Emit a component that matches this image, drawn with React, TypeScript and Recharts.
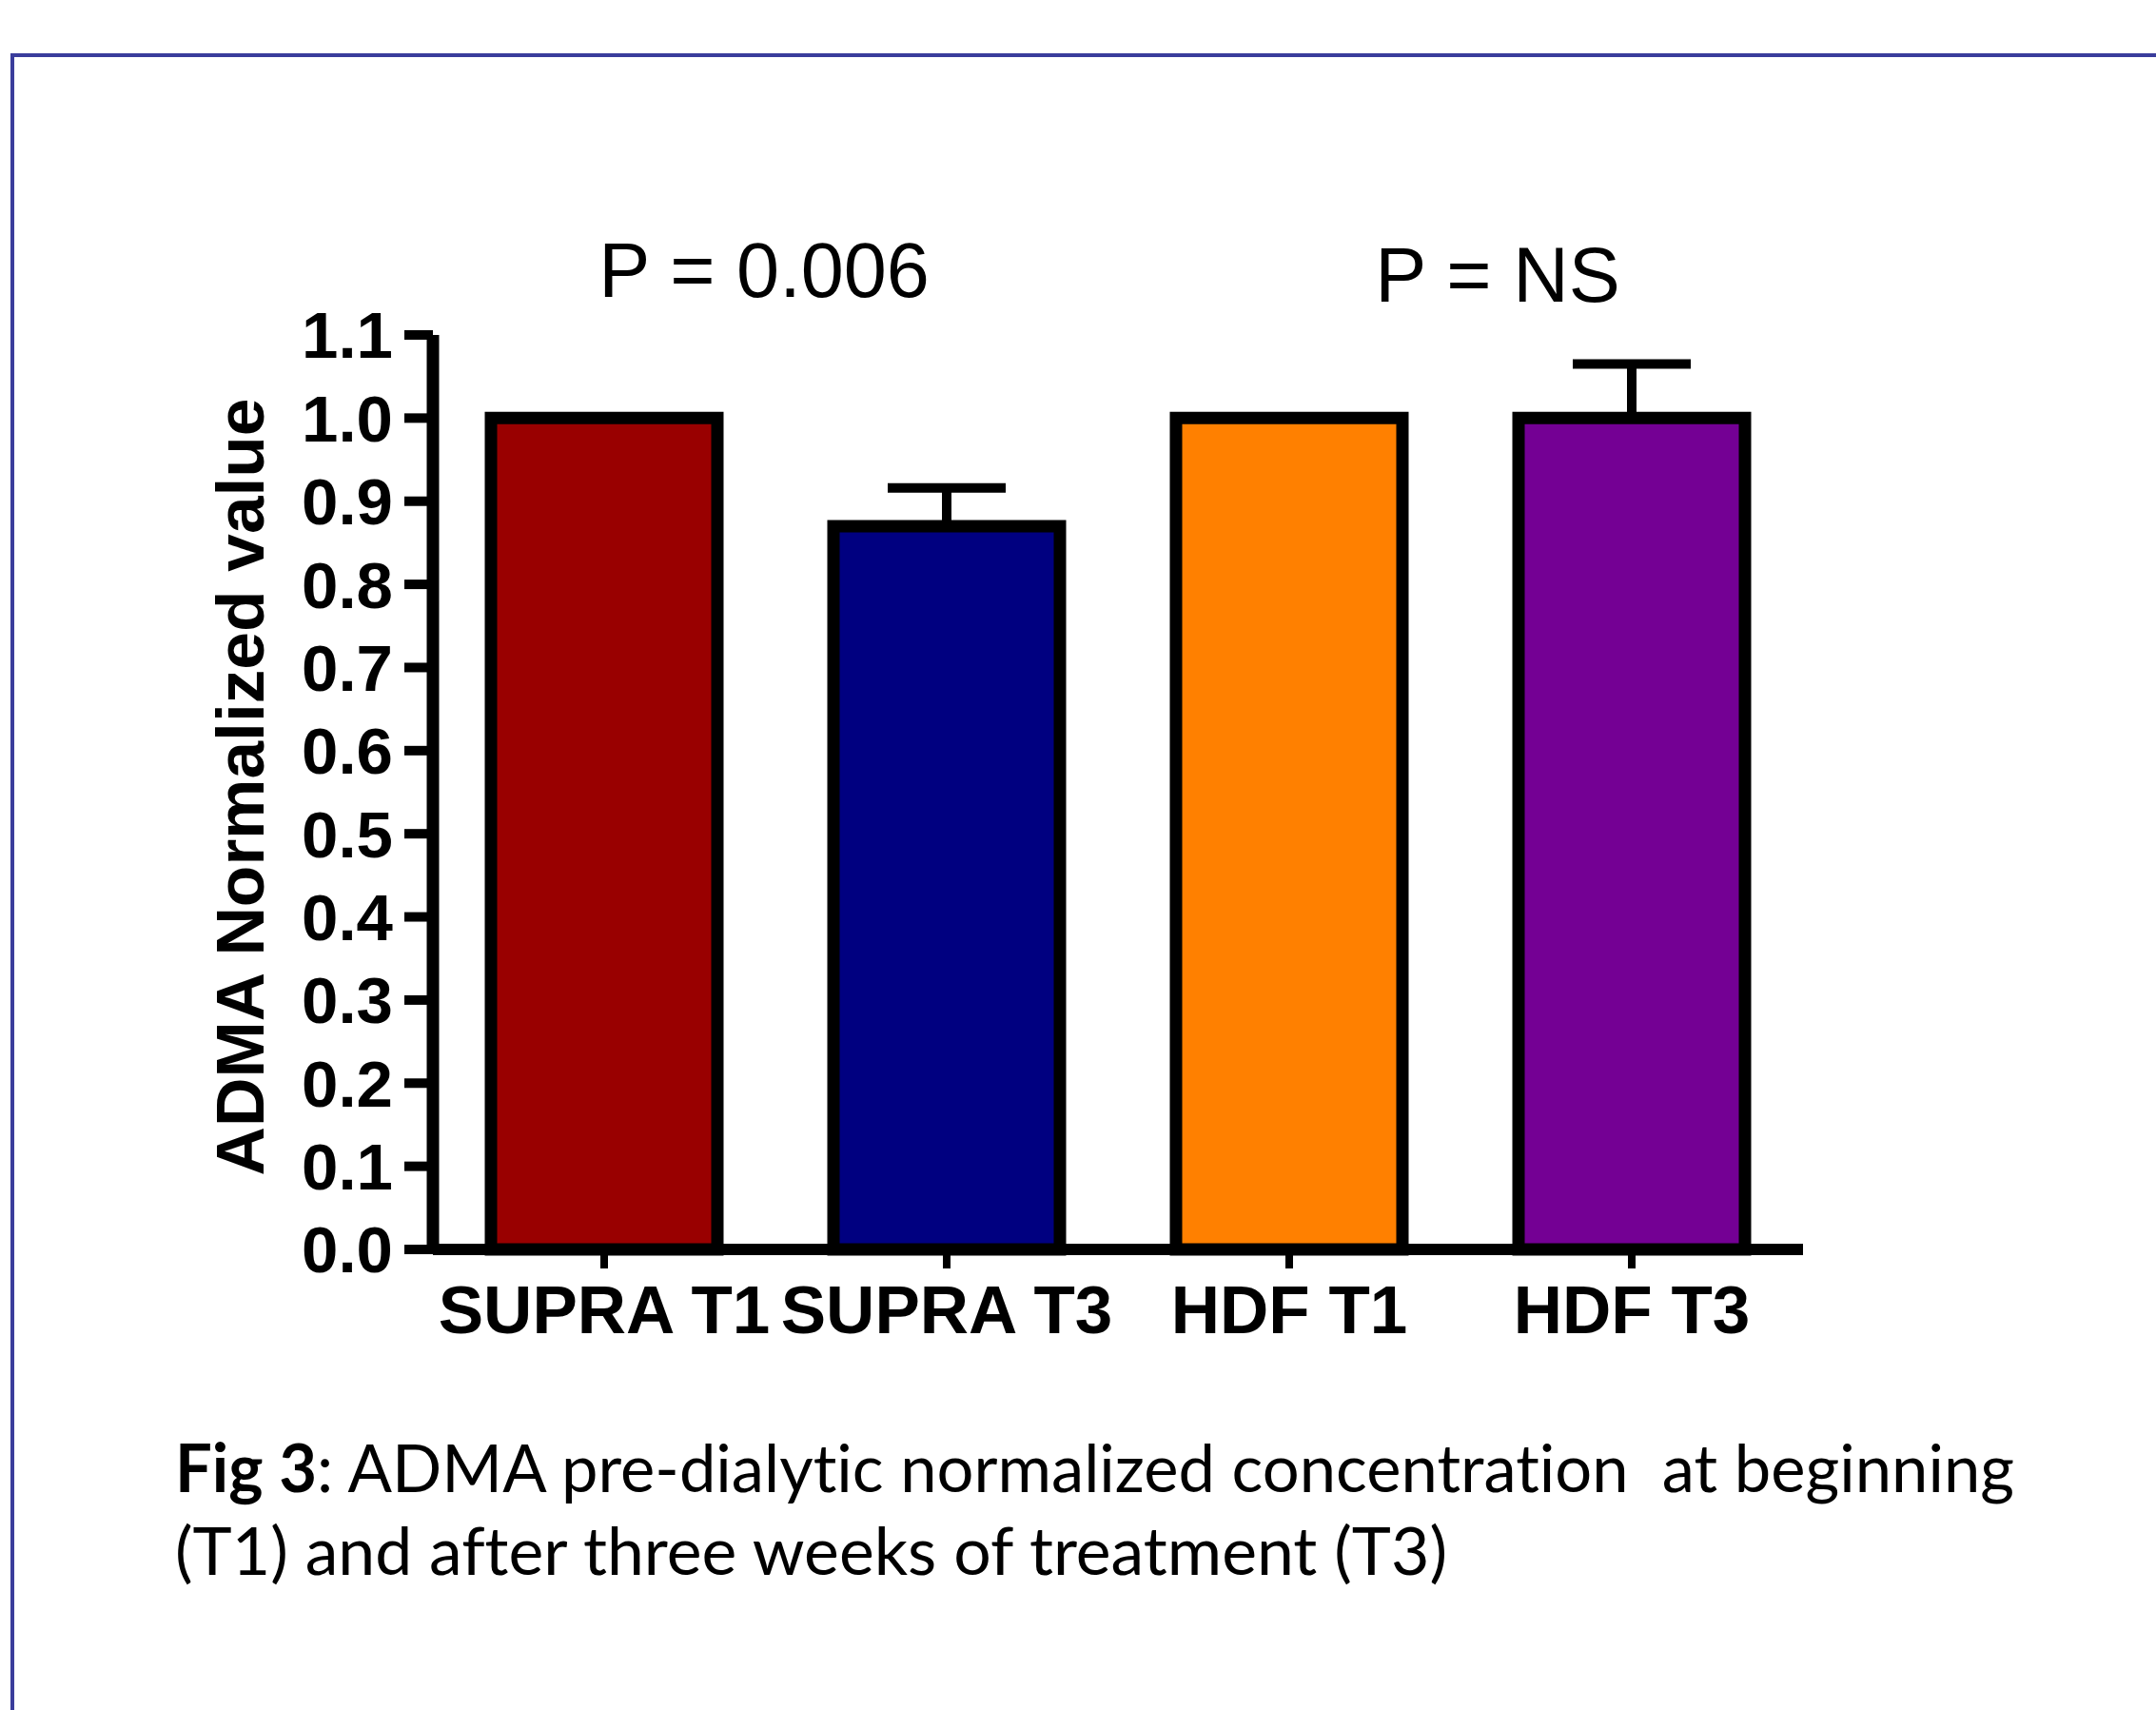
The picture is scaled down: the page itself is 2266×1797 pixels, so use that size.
import { Bar, BarChart, Cell, ErrorBar, XAxis, YAxis } from "recharts";

const categories = ["SUPRA T1", "SUPRA T3", "HDF T1", "HDF T3"];
const means = [1.0, 0.87, 1.0, 1.0];
const errorsUp = [0, 0.046, 0, 0.065];
const barColors = ["#990000", "#000080", "#FF8000", "#740094"];
const yTicks = [0, 0.1, 0.2, 0.3, 0.4, 0.5, 0.6, 0.7, 0.8, 0.9, 1.0, 1.1];
const pLabels = ["P = 0.006", "P = NS"];

const rows = categories.map((name, i) => ({
  name,
  value: means[i],
  err: [0, errorsUp[i]],
}));

const axisFont = { fill: "#000", fontSize: 69, fontWeight: 700, fontFamily: "'Liberation Sans', Arial, sans-serif" };
const captionFont = "Lato, 'Open Sans', sans-serif";

export default function App() {
  return (
    <div style={{ position: "absolute", left: 0, top: 0, width: 2266, height: 1797, overflow: "hidden", background: "#fff" }}>
      <div
        style={{
          position: "absolute",
          left: 11,
          top: 56,
          right: -10,
          bottom: -10,
          borderLeft: "4px solid #3a3d9c",
          borderTop: "4px solid #3a3d9c",
        }}
      />
      <div style={{ position: "absolute", left: 0, top: 0 }}>
        <BarChart width={2266} height={1500} data={rows} margin={{ top: 352, right: 371, bottom: 67, left: 305 }} barCategoryGap={0}>
          <XAxis
            dataKey="name"
            height={120}
            interval={0}
            tick={{ ...axisFont, fontSize: 71 }}
            tickSize={20}
            tickMargin={18}
            axisLine={{ stroke: "#000", strokeWidth: 12 }}
            tickLine={{ stroke: "#000", strokeWidth: 8 }}
          />
          <YAxis
            width={150}
            domain={[0, 1.1]}
            ticks={yTicks}
            interval={0}
            tickFormatter={(v: number) => v.toFixed(1)}
            tick={axisFont}
            tickSize={30}
            tickMargin={12}
            axisLine={{ stroke: "#000", strokeWidth: 13 }}
            tickLine={{ stroke: "#000", strokeWidth: 10 }}
          />
          <Bar dataKey="value" barSize={238} stroke="#000" strokeWidth={13} isAnimationActive={false}>
            {rows.map((r, i) => (
              <Cell key={r.name} fill={barColors[i]} />
            ))}
            <ErrorBar dataKey="err" direction="y" width={62} stroke="#000" strokeWidth={10} isAnimationActive={false} />
          </Bar>
        </BarChart>
      </div>
      <svg width={2266} height={1797} style={{ position: "absolute", left: 0, top: 0, pointerEvents: "none" }}>
        <text
          x={277}
          y={827}
          transform="rotate(-90 277 827)"
          textAnchor="middle"
          textLength={817}
          lengthAdjust="spacingAndGlyphs"
          fontFamily="'Liberation Sans', Arial, sans-serif"
          fontWeight={700}
          fontSize={71}
          fill="#000"
        >
          ADMA Normalized value
        </text>
        <text x={803} y={312} textAnchor="middle" fontFamily="'Liberation Sans', Arial, sans-serif" fontSize={81} fill="#000">
          {pLabels[0]}
        </text>
        <text x={1574} y={317} textAnchor="middle" fontFamily="'Liberation Sans', Arial, sans-serif" fontSize={81} fill="#000">
          {pLabels[1]}
        </text>
        <text
          x={184}
          y={1568}
          textLength={1933}
          lengthAdjust="spacingAndGlyphs"
          xmlSpace="preserve"
          fontFamily={captionFont}
          fontSize={70}
          fill="#000"
          style={{ fontVariantLigatures: "none" }}
        >
          <tspan fontWeight={700}>Fig 3</tspan>: ADMA pre-dialytic normalized concentration  at beginning
        </text>
        <text
          x={184}
          y={1655}
          textLength={1337}
          lengthAdjust="spacingAndGlyphs"
          fontFamily={captionFont}
          fontSize={70}
          fill="#000"
          style={{ fontVariantLigatures: "none" }}
        >
          (T1) and after three weeks of treatment (T3)
        </text>
      </svg>
    </div>
  );
}
